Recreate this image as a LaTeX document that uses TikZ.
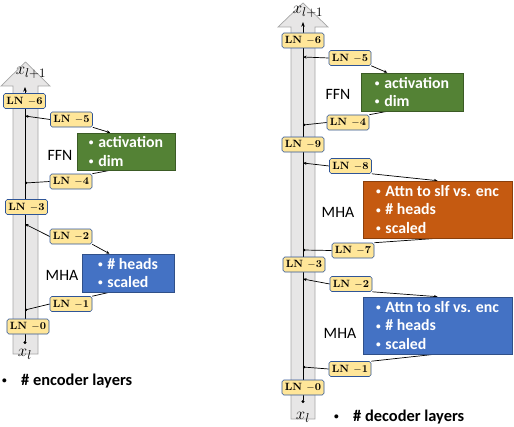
\documentclass[tikz,border=0pt]{standalone}
\usepackage{fontspec}
\newfontfamily\calib{Carlito}
\usetikzlibrary{positioning,arrows.meta,calc,backgrounds}
\definecolor{colFFN}{RGB}{84,130,53}
\definecolor{colMHA}{RGB}{68,114,196}
\definecolor{colXattn}{RGB}{197,90,17}
\definecolor{colLN}{RGB}{255,230,153}
\definecolor{colLNedge}{RGB}{47,85,151}
\definecolor{colShaft}{RGB}{231,230,230}
\definecolor{colShaftEdge}{RGB}{166,166,166}
\newcommand{\blt}{\raisebox{0.12em}{\fontsize{8}{8}\selectfont•}\hspace{0.3em}}

\begin{document}
\begin{tikzpicture}[
    x=0.03cm, y=-0.03cm,
    every node/.style={inner sep=0pt},
    ln/.style={draw=colLNedge, fill=colLN, rounded corners=1.5pt, line width=0.5pt,
        minimum width=1.26cm, minimum height=0.45cm, font=\fontsize{9}{10}\selectfont\bfseries},
    blk/.style={text=white, align=left, line width=0.5pt,
        font=\calib\bfseries\fontsize{13.5}{16}\selectfont},
    lbl/.style={font=\calib\fontsize{13.5}{15}\selectfont},
    note/.style={anchor=west, font=\calib\bfseries\fontsize{14}{16}\selectfont},
    xlab/.style={font=\fontsize{15}{17}\selectfont},
    conn/.style={line width=0.6pt},
    shaft/.style={fill=colShaft, draw=colShaftEdge, line width=0.6pt}
]
    \useasboundingbox (0,0) rectangle (514,426);

    % ---------------- encoder ----------------
    \foreach \n/\x/\y in {6/24.5/101, 5/71.5/119.5, 4/71/181.5, 3/26.5/207,
                          2/71/236.5, 1/71/304, 0/28/326.5} {
        \node[ln] (enc\n) at (\x,\y) {LN $-$\n};
    }
    \node[blk, fill=colFFN, draw=colFFN!70!black, minimum width=2.94cm, minimum height=1.11cm]
        (encFFN) at (126,151.5) {\blt activation\\\blt dim};
    \node[blk, fill=colMHA, draw=colMHA!70!black, minimum width=2.76cm, minimum height=1.14cm]
        (encMHA) at (128,273) {\blt \# heads\\\blt scaled};
    \node[lbl] (encFFNlab) at (60,155) {FFN};
    \node[lbl] (encMHAlab) at (62,275) {MHA};
    \node[xlab] (encOut) at (31,73) {$x_{l+1}$};
    \node[xlab] (encIn) at (25,354) {$x_l$};
    \node[note] (encNote) at (2,381) {\blt\hspace{8pt}\# encoder layers};

    \coordinate (encBot) at (25,344);
    \coordinate (encTop) at (25,87);
    \coordinate (encJ5) at (25,116);
    \coordinate (encJ4) at (25,183);
    \coordinate (encJ2) at (25,224);
    \coordinate (encJ1) at (25,310);

    % ---------------- decoder ----------------
    \foreach \n/\x/\y in {6/303/40.5, 5/350/58, 4/348/122.5, 9/303/144.5, 8/350.5/166,
                          7/353/250.5, 3/304/264.5, 2/351/284, 1/350/369, 0/303/387.5} {
        \node[ln] (dec\n) at (\x,\y) {LN $-$\n};
    }
    \node[blk, fill=colFFN, draw=colFFN!70!black, minimum width=3.06cm, minimum height=1.14cm]
        (decFFN) at (412,92) {\blt activation\\\blt dim};
    \node[blk, fill=colXattn, draw=colXattn!70!black, minimum width=4.47cm, minimum height=1.71cm]
        (decXMHA) at (437.5,209.5) {\blt Attn to slf vs. enc\\\blt \# heads\\\blt scaled};
    \node[blk, fill=colMHA, draw=colMHA!70!black, minimum width=4.47cm, minimum height=1.71cm]
        (decMHA) at (437.5,325.5) {\blt Attn to slf vs. enc\\\blt \# heads\\\blt scaled};
    \node[lbl] (decFFNlab) at (338,94) {FFN};
    \node[lbl] (decXMHAlab) at (338,212) {MHA};
    \node[lbl] (decMHAlab) at (340,333) {MHA};
    \node[xlab] (decOut) at (308,12) {$x_{l+1}$};
    \node[xlab] (decIn) at (303,417) {$x_l$};
    \node[note] (decNote) at (334,417) {\blt\hspace{8pt}\# decoder layers};

    \coordinate (decBot) at (303,403);
    \coordinate (decTop) at (303,22);
    \coordinate (decJ5) at (303,57);
    \coordinate (decJ4) at (303,125);
    \coordinate (decJ8) at (303,163);
    \coordinate (decJ7) at (303,250);
    \coordinate (decJ2) at (303,279);
    \coordinate (decJ1) at (303,367);

    \begin{scope}[on background layer]
        % residual streams
        \draw[shaft] (13,354) -- (13,86) -- (1,86) -- (25.5,62) -- (50,86) -- (38,86) -- (38,354) -- cycle;
        \draw[shaft] (291,419) -- (291,27) -- (278,27) -- (303,3) -- (328,27) -- (315,27) -- (315,419) -- cycle;
        \draw[conn, {Circle[length=2.5pt]}-{Stealth[length=4pt,width=3pt]}] (encBot) -- (encTop);
        \draw[conn, {Circle[length=2.5pt]}-{Stealth[length=4pt,width=3pt]}] (decBot) -- (decTop);

        % encoder sub-layers
        \draw[conn, -{Stealth[length=3pt,width=2.5pt]}] (enc5.west) -- (encJ5);
        \draw[conn, -{Stealth[length=3pt,width=2.5pt]}] (enc5.south east) -- ($(encFFN.north west)!0.34!(encFFN.north east)$);
        \draw[conn, {Circle[length=2pt]}-] (encJ4) -- (enc4.west);
        \draw[conn] (enc4.north east) -- ($(encFFN.south west)!0.34!(encFFN.south east)$);
        \draw[conn, -{Stealth[length=3pt,width=2.5pt]}] (enc2.west) -- (encJ2);
        \draw[conn, -{Stealth[length=3pt,width=2.5pt]}] (enc2.south east) -- ($(encMHA.north west)!0.3!(encMHA.north east)$);
        \draw[conn, {Circle[length=2pt]}-] (encJ1) -- (enc1.west);
        \draw[conn] (enc1.north east) -- ($(encMHA.south west)!0.3!(encMHA.south east)$);

        % decoder sub-layers
        \draw[conn, -{Stealth[length=3pt,width=2.5pt]}] (dec5.west) -- (decJ5);
        \draw[conn, -{Stealth[length=3pt,width=2.5pt]}] (dec5.south east) -- ($(decFFN.north west)!0.26!(decFFN.north east)$);
        \draw[conn, {Circle[length=2pt]}-] (decJ4) -- (dec4.west);
        \draw[conn] (dec4.north east) -- ($(decFFN.south west)!0.26!(decFFN.south east)$);
        \draw[conn, -{Stealth[length=3pt,width=2.5pt]}] (dec8.west) -- (decJ8);
        \draw[conn, -{Stealth[length=3pt,width=2.5pt]}] (dec8.south east) -- ($(decXMHA.north west)!0.5!(decXMHA.north east)$);
        \draw[conn, {Circle[length=2pt]}-] (decJ7) -- (dec7.west);
        \draw[conn] (dec7.north east) -- ($(decXMHA.south west)!0.5!(decXMHA.south east)$);
        \draw[conn, -{Stealth[length=3pt,width=2.5pt]}] (dec2.west) -- (decJ2);
        \draw[conn, -{Stealth[length=3pt,width=2.5pt]}] (dec2.south east) -- ($(decMHA.north west)!0.5!(decMHA.north east)$);
        \draw[conn, {Circle[length=2pt]}-] (decJ1) -- (dec1.west);
        \draw[conn] (dec1.north east) -- ($(decMHA.south west)!0.48!(decMHA.south east)$);
    \end{scope}
\end{tikzpicture}
\end{document}
